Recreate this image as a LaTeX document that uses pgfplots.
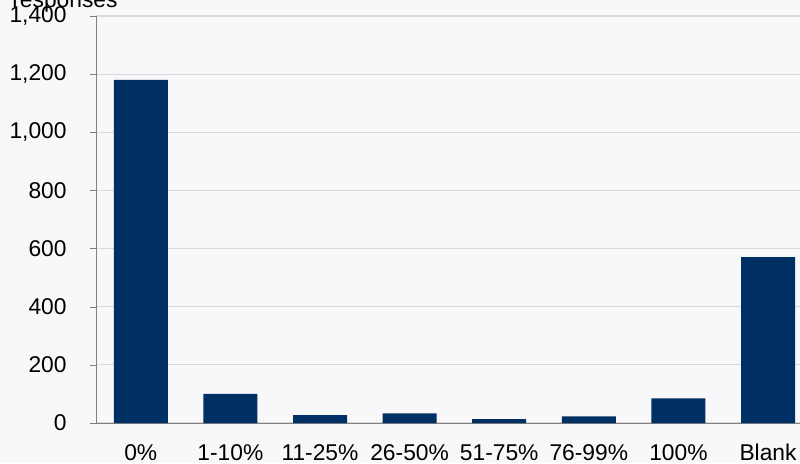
\documentclass[border=0pt]{standalone}
\usepackage{fontspec}
\setmainfont{Liberation Sans}
\usepackage{pgfplots}
\pgfplotsset{compat=1.18}
\definecolor{barblue}{RGB}{0,48,99}
\definecolor{bgcol}{RGB}{248,248,250}
\definecolor{gridgray}{RGB}{217,217,217}
\definecolor{axisgray}{RGB}{128,128,128}

\begin{document}
\begin{tikzpicture}
% page background (1px = 0.5pt)
\fill[bgcol] (-48pt,-20pt) rectangle (352pt,211.5pt);
\begin{axis}[
  at={(0,0)}, anchor=south west,
  scale only axis, width=352pt, height=203.5pt,
  xmin=-0.5, xmax=7.357, ymin=0, ymax=1400,
  ytick={0,200,...,1400},
  xtick={0,...,7},
  xticklabels={0\%,1-10\%,11-25\%,26-50\%,51-75\%,76-99\%,100\%,Blank},
  axis x line=bottom, axis y line=left,
  axis line style={axisgray,-},
  ymajorgrids, grid style={gridgray, line width=0.6pt},
  ybar, bar width=27pt,
  font=\fontsize{11.4}{13}\selectfont,
  /pgf/number format/assume math mode=true,
  /pgf/number format/1000 sep={,},
  scaled y ticks=false,
  x tick style={draw=none},
  y tick style={axisgray},
  major tick length=3pt, tick align=outside,
  yticklabel style={anchor=east, inner xsep=0pt, xshift=-11.5pt},
  xticklabel style={anchor=base, inner sep=0pt, yshift=-15.5pt},
]
\addplot[fill=barblue, draw=none] coordinates {
  (0,1180)(1,100)(2,27)(3,33)(4,13)(5,23)(6,85)(7,571)};
\end{axis}
\node[anchor=base west, inner sep=0pt, font=\fontsize{11.4}{13}\selectfont] at (-42pt,208pt) {responses};
\pgfresetboundingbox
\path[use as bounding box] (-48pt,-20pt) rectangle (352pt,211.5pt);
\end{tikzpicture}
\end{document}
